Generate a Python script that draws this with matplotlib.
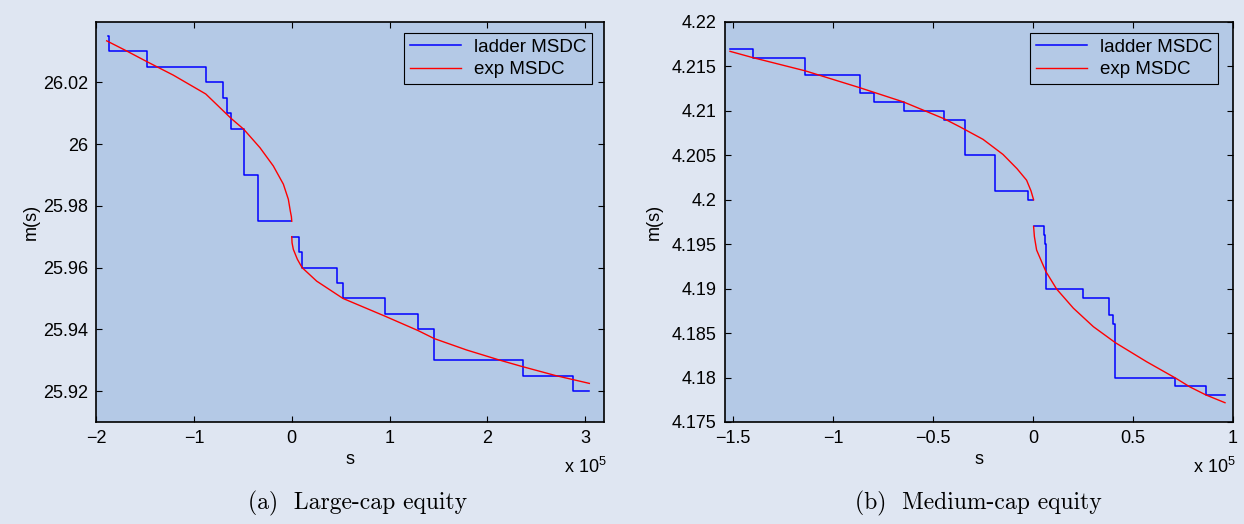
"""
ladder MSDC vs exp MSDC, two panels (large-cap / medium-cap)
output: out.png
"""
import matplotlib
matplotlib.use("Agg")
import matplotlib.pyplot as plt

# ── colours / fonts ────────────────────────────────────────────────────────
FIG_BG   = "#dfe6f2"
AX_BG    = "#b4c9e6"
BLUE     = "#0000ff"
RED      = "#ff0000"
SANS     = "Liberation Sans"
SERIF    = "cmr10"
FS       = 13

plt.rcParams["font.family"] = [SANS, "DejaVu Sans"]
plt.rcParams["mathtext.fontset"] = "custom"
plt.rcParams["mathtext.rm"] = SANS
plt.rcParams["axes.unicode_minus"] = True

# ── data (s in units of 1e5) ───────────────────────────────────────────────
# (a) large-cap
a_ladder_neg_s = [-1.883, -1.870, -1.478, -0.880, -0.700, -0.659, -0.621, -0.492, -0.342, -0.005]
a_ladder_neg_m = [26.035, 26.030, 26.025, 26.020, 26.015, 26.010, 26.005, 25.990, 25.975, 25.975]
a_ladder_pos_s = [0.0, 0.077, 0.105, 0.466, 0.524, 0.951, 1.292, 1.458, 2.363, 2.874, 3.044]
a_ladder_pos_m = [25.970, 25.965, 25.960, 25.955, 25.950, 25.945, 25.940, 25.930, 25.925, 25.920, 25.920]
a_exp_neg_s = [-1.893, -1.688, -1.478, -1.212, -0.880, -0.621, -0.492, -0.325, -0.189,
               -0.086, -0.035, -0.015, -0.004, 0.0]
a_exp_neg_m = [26.0334, 26.0301, 26.0266, 26.0223, 26.0162, 26.0083, 26.0048, 25.9988, 25.9929,
               25.9870, 25.9821, 25.9783, 25.9765, 25.975]
a_exp_pos_s = [0.0, 0.003, 0.016, 0.057, 0.105, 0.255, 0.524, 0.951, 1.292, 1.458, 1.790,
               2.130, 2.363, 2.703, 3.044]
a_exp_pos_m = [25.970, 25.968, 25.9659, 25.9627, 25.960, 25.9556, 25.950, 25.9443, 25.9396,
               25.937, 25.9333, 25.930, 25.9279, 25.925, 25.9225]

# (b) medium-cap
b_ladder_neg_s = [-1.515, -1.402, -1.138, -0.865, -0.793, -0.647, -0.443, -0.340, -0.190, -0.027, 0.0]
b_ladder_neg_m = [4.217, 4.216, 4.214, 4.212, 4.211, 4.210, 4.209, 4.205, 4.201, 4.200, 4.200]
b_ladder_pos_s = [0.003, 0.053, 0.058, 0.065, 0.252, 0.382, 0.402, 0.412, 0.712, 0.865, 0.960]
b_ladder_pos_m = [4.197, 4.196, 4.195, 4.190, 4.189, 4.187, 4.186, 4.180, 4.179, 4.178, 4.178]
b_exp_neg_s = [-1.515, -1.402, -1.138, -0.865, -0.647, -0.443, -0.365, -0.250, -0.150,
               -0.080, -0.032, -0.010, 0.003]
b_exp_neg_m = [4.2167, 4.2160, 4.2145, 4.2126, 4.2110, 4.2091, 4.2082, 4.2068, 4.2051,
               4.2035, 4.2022, 4.2010, 4.2000]
b_exp_pos_s = [0.003, 0.007, 0.018, 0.043, 0.065, 0.118, 0.202, 0.302, 0.412, 0.568,
               0.712, 0.785, 0.865, 0.960]
b_exp_pos_m = [4.1970, 4.19585, 4.19435, 4.19304, 4.1919, 4.18996, 4.1878, 4.18572, 4.18392,
               4.18178, 4.17995, 4.17894, 4.17804, 4.17717]

a_xticks = [-2, -1, 0, 1, 2, 3]
a_xlabels = ["\u22122", "\u22121", "0", "1", "2", "3"]
a_yticks = [25.92, 25.94, 25.96, 25.98, 26.00, 26.02]
a_ylabels = ["25.92", "25.94", "25.96", "25.98", "26", "26.02"]

b_xticks = [-1.5, -1.0, -0.5, 0.0, 0.5, 1.0]
b_xlabels = ["\u22121.5", "\u22121", "\u22120.5", "0", "0.5", "1"]
b_yticks = [4.175, 4.18, 4.185, 4.19, 4.195, 4.2, 4.205, 4.21, 4.215, 4.22]
b_ylabels = ["4.175", "4.18", "4.185", "4.19", "4.195", "4.2", "4.205", "4.21", "4.215", "4.22"]

captions = ["(a)  Large-cap equity", "(b)  Medium-cap equity"]

# ── figure ────────────────────────────────────────────────────────────────
W, H = 1244, 524
fig = plt.figure(figsize=(W / 100, H / 100), dpi=100, facecolor=FIG_BG)


def px_rect(x0, x1, y0, y1):
    return [x0 / W, 1 - y1 / H, (x1 - x0) / W, (y1 - y0) / H]


def panel(rect, ladder, exp, xlim, ylim, xt, xl, yt, yl, leg_anchor, ylab_x,
          caption, cap_x):
    ax = fig.add_axes(rect)
    ax.set_facecolor(AX_BG)
    (lns, lnm, lps, lpm) = ladder
    (ens, enm, eps, epm) = exp
    ax.step(lns, lnm, where="post", color=BLUE, lw=1.1, label="ladder MSDC")
    ax.step(lps, lpm, where="post", color=BLUE, lw=1.1)
    ax.plot(ens, enm, color=RED, lw=1.0, label="exp MSDC")
    ax.plot(eps, epm, color=RED, lw=1.0)
    ax.set_xlim(*xlim)
    ax.set_ylim(*ylim)
    ax.set_xticks(xt)
    ax.set_xticklabels(xl)
    ax.set_yticks(yt)
    ax.set_yticklabels(yl)
    ax.tick_params(direction="in", top=True, right=True, length=4, width=0.8,
                   labelsize=FS, pad=6, colors="black")
    for sp in ax.spines.values():
        sp.set_linewidth(1.2)
        sp.set_color("black")
    ax.set_xlabel("s", fontsize=FS, labelpad=3)
    ax.set_ylabel("m(s)", fontsize=FS)
    ax.yaxis.set_label_coords(ylab_x, 0.5)
    ax.text(1.005, -0.088, r"x 10$^{5}$", transform=ax.transAxes, ha="right",
            va="top", fontsize=FS)
    leg = ax.legend(loc="upper right", bbox_to_anchor=leg_anchor, borderaxespad=0,
                    fontsize=13.5, frameon=True, fancybox=False, framealpha=1,
                    facecolor=AX_BG, edgecolor="black", handlelength=2.7,
                    borderpad=0.3, labelspacing=0.3, handletextpad=0.7)
    leg.get_frame().set_linewidth(0.8)
    fig.text(cap_x, 1 - 503 / H, caption, ha="center", va="center",
             fontsize=17, family=SERIF)
    return ax


panel(px_rect(96.25, 604, 22, 422),
      (a_ladder_neg_s, a_ladder_neg_m, a_ladder_pos_s, a_ladder_pos_m),
      (a_exp_neg_s, a_exp_neg_m, a_exp_pos_s, a_exp_pos_m),
      (-2, 3.194), (25.91, 26.0395), a_xticks, a_xlabels, a_yticks, a_ylabels,
      (0.976, 0.9725), -0.111, captions[0], 358 / W)

panel(px_rect(725, 1233, 22, 422),
      (b_ladder_neg_s, b_ladder_neg_m, b_ladder_pos_s, b_ladder_pos_m),
      (b_exp_neg_s, b_exp_neg_m, b_exp_pos_s, b_exp_pos_m),
      (-1.54, 1.0), (4.175, 4.22), b_xticks, b_xlabels, b_yticks, b_ylabels,
      (0.970, 0.9725), -0.122, captions[1], 978 / W)

fig.savefig("out.png", dpi=100, facecolor=FIG_BG)
